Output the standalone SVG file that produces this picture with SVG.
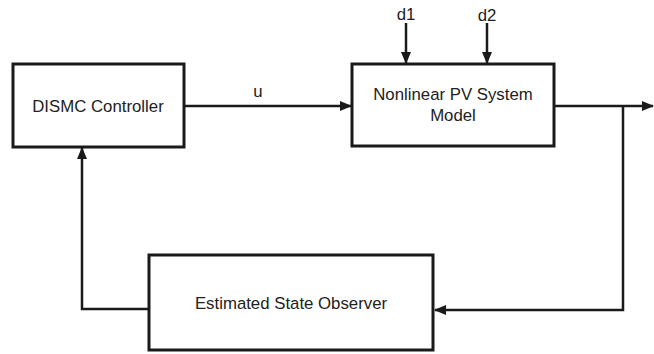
<svg xmlns="http://www.w3.org/2000/svg" width="654" height="354" viewBox="0 0 654 354">
<style>
.box{fill:#fff;stroke:#1a1a1a;stroke-width:3}
.ln{fill:none;stroke:#1a1a1a;stroke-width:2.5}
text{font-family:"Liberation Sans",Arial,sans-serif;font-size:16.8px;fill:#222;text-anchor:middle}
</style>
<defs>
<marker id="ah" markerWidth="12" markerHeight="10" refX="11" refY="5" orient="auto" markerUnits="userSpaceOnUse">
<path d="M0,0 L12,5 L0,10 Z" fill="#1a1a1a"/>
</marker>
</defs>
<g id="connectors">
<path class="ln" d="M184,106 H351" marker-end="url(#ah)"/>
<path class="ln" d="M406,23 V63" marker-end="url(#ah)"/>
<path class="ln" d="M487,23 V63" marker-end="url(#ah)"/>
<path class="ln" d="M554,106 H653" marker-end="url(#ah)"/>
<path class="ln" d="M623,106 V310 H435" marker-end="url(#ah)"/>
<path class="ln" d="M149,309 H82 V148" marker-end="url(#ah)"/>
<text x="258" y="97">u</text>
<text x="406" y="20">d1</text>
<text x="487" y="21">d2</text>
</g>
<g id="dismc">
<rect class="box" x="13" y="64" width="171" height="83"/>
<text x="98" y="112">DISMC Controller</text>
</g>
<g id="pv">
<rect class="box" x="352" y="64" width="202" height="82"/>
<text x="453" y="100">Nonlinear PV System</text>
<text x="453" y="121">Model</text>
</g>
<g id="observer">
<rect class="box" x="149" y="255" width="284" height="95"/>
<text x="291" y="309">Estimated State Observer</text>
</g>
</svg>
